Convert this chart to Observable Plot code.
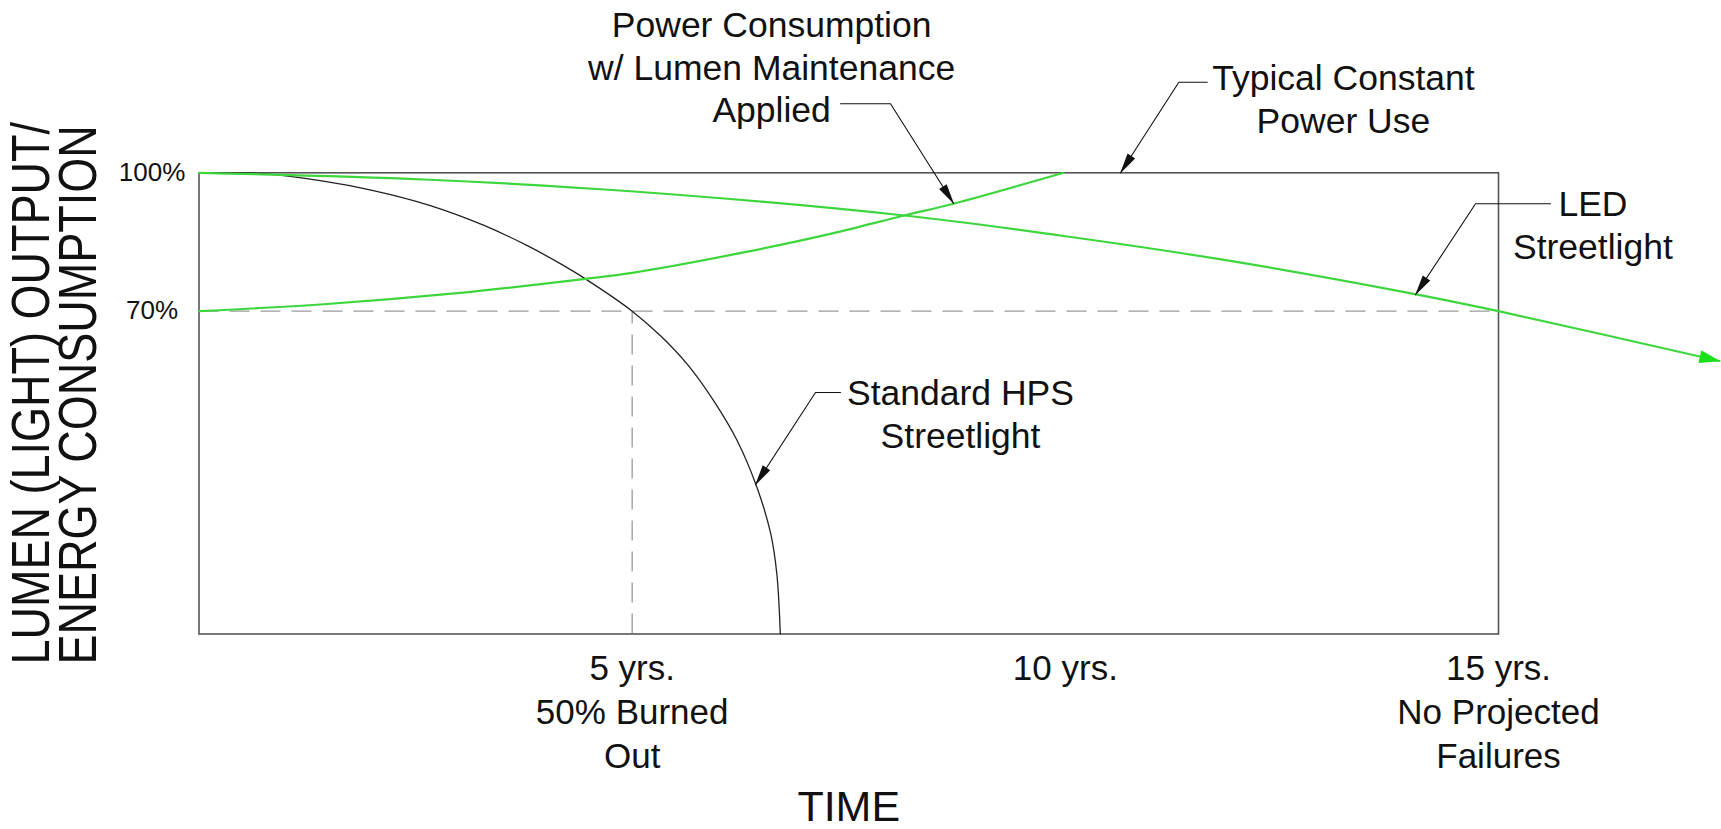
<!DOCTYPE html>
<html>
<head>
<meta charset="utf-8">
<script src="https://cdn.jsdelivr.net/npm/d3@7"></script>
<script src="https://cdn.jsdelivr.net/npm/@observablehq/plot@0.6"></script>
<style>
  html, body { margin: 0; padding: 0; background: #fff; }
  #chart svg { display: block; }
</style>
</head>
<body>
<div id="chart"></div>
<script>
// ---------------- data (years, percent) ----------------
const hpsYears = [0, 0.73, 1.40, 2.00, 2.67, 3.29, 3.79, 4.17, 4.46, 5.00, 5.33, 5.64, 5.94, 6.21, 6.44, 6.60, 6.67, 6.71];
const hpsPct   = [100, 99.8, 98.3, 96.2, 92.9, 88.6, 84.2, 80.3, 77.0, 70.0, 64.6, 58.4, 50.6, 42.0, 31.8, 21.7, 13.0, 0];

const ledYears = [0, 2.6, 4.98, 8.14, 9.94, 11.87, 14.02, 15.0, 17.55];
const ledPct   = [100, 98.55, 96.0, 90.74, 86.4, 81.0, 73.76, 70.0, 59.2];

const powerYears = [0, 1.44, 2.98, 4.46, 5.0, 6.33, 7.3, 8.14, 8.71, 9.98];
const powerPct   = [70, 71.5, 73.9, 77.0, 78.3, 82.9, 86.8, 90.74, 93.3, 100];

const refPct = 70;       // dashed horizontal reference
const refYear = 5;       // dashed vertical reference

const xTicks = [5, 10, 15];
const xTickLabels = ["5 yrs.\n50% Burned\nOut", "10 yrs.", "15 yrs.\nNo Projected\nFailures"];
const yTicks = [70, 100];
const yTickLabels = ["70%", "100%"];

const xTitle = "TIME";
const yTitle = "LUMEN (LIGHT) OUTPUT/\nENERGY CONSUMPTION";

// annotation labels (centre in data space)
const labelTexts = [
  "Power Consumption\nw/ Lumen Maintenance\nApplied",
  "Typical Constant\nPower Use",
  "LED\nStreetlight",
  "Standard HPS\nStreetlight"
];
const labelYears = [6.61, 13.21, 16.09, 8.79];
const labelPcts  = [123.2, 116.3, 88.86, 48.03];

// leader polylines (last point = arrow tip)
const leaderIds   = ["A", "A", "A", "B", "B", "B", "C", "C", "C", "D", "D", "D"];
const leaderYears = [7.405, 7.982, 8.71, 11.638, 11.31, 10.637, 15.6, 14.735, 14.042, 7.405, 7.116, 6.424];
const leaderPcts  = [114.96, 114.96, 93.34, 119.64, 119.64, 100, 93.28, 93.28, 73.55, 52.36, 52.36, 32.4];

// ---------------- layout ----------------
const W = 1721, H = 829;
const ML = 198.5, MR = 223, MT = 172.3, MB = 195.5;
const X_DOMAIN = [0, 15], Y_DOMAIN = [0, 100];
const kx = (W - ML - MR) / (X_DOMAIN[1] - X_DOMAIN[0]);
const ky = (H - MT - MB) / (Y_DOMAIN[1] - Y_DOMAIN[0]);
const screenAngle = (x0, y0, x1, y1) =>
  Math.atan2(-(y1 - y0) * ky, (x1 - x0) * kx) * 180 / Math.PI;

// ---------------- tables ----------------
const hps = hpsYears.map((x, i) => ({x, y: hpsPct[i]}));
const led = ledYears.map((x, i) => ({x, y: ledPct[i]}));
const power = powerYears.map((x, i) => ({x, y: powerPct[i]}));
const labels = labelTexts.map((t, i) => ({text: t, x: labelYears[i], y: labelPcts[i]}));
const leaders = leaderIds.map((id, i) => ({id, x: leaderYears[i], y: leaderPcts[i]}));

const heads = [];
for (const id of [...new Set(leaderIds)]) {
  const pts = leaders.filter(d => d.id === id);
  const a = pts[pts.length - 2], b = pts[pts.length - 1];
  heads.push({x: b.x, y: b.y, angle: screenAngle(a.x, a.y, b.x, b.y)});
}
const ledHead = [{
  x: led[led.length - 1].x, y: led[led.length - 1].y,
  angle: screenAngle(led[led.length - 2].x, led[led.length - 2].y, led[led.length - 1].x, led[led.length - 1].y)
}];

// filled arrowhead symbols (tip at origin, pointing +x)
const blackHeadSymbol = {draw(c) { c.moveTo(1, 0); c.lineTo(-20, -4.5); c.lineTo(-20, 4.5); c.closePath(); }};
const greenHeadSymbol = {draw(c) { c.moveTo(1, 0); c.lineTo(-20, -6.5); c.lineTo(-20, 6.5); c.closePath(); }};

const GREEN = "#3dd63d";
const TITLE_STRETCH = 1.21;   // the reference axis title uses tall, narrow capitals

const chart = Plot.plot({
  width: W, height: H,
  marginLeft: ML, marginRight: MR, marginTop: MT, marginBottom: MB,
  x: {domain: X_DOMAIN},
  y: {domain: Y_DOMAIN},
  style: {fontFamily: "'Liberation Sans', Arial, Helvetica, sans-serif", color: "#111", background: "#fff"},
  marks: [
    Plot.ruleY([refPct], {x1: X_DOMAIN[0], x2: X_DOMAIN[1], stroke: "#9a9a9a", strokeWidth: 1.3, strokeDasharray: "20,11"}),
    Plot.ruleX([refYear], {y1: Y_DOMAIN[0], y2: refPct, stroke: "#9a9a9a", strokeWidth: 1.3, strokeDasharray: "20,11"}),
    Plot.frame({stroke: "#555", strokeWidth: 1.6}),
    Plot.line(hps, {x: "x", y: "y", curve: "catmull-rom", stroke: "#222", strokeWidth: 1.3}),
    Plot.line(power, {x: "x", y: "y", curve: "catmull-rom", stroke: GREEN, strokeWidth: 2.2}),
    Plot.line(led, {x: "x", y: "y", curve: "catmull-rom", stroke: GREEN, strokeWidth: 2.2}),
    Plot.dot(ledHead, {x: "x", y: "y", rotate: "angle", symbol: greenHeadSymbol, fill: "#19e019", stroke: "none"}),
    Plot.line(leaders, {x: "x", y: "y", z: "id", stroke: "#111", strokeWidth: 1.1, curve: "linear"}),
    Plot.dot(heads, {x: "x", y: "y", rotate: "angle", symbol: blackHeadSymbol, fill: "#111", stroke: "none"}),
    Plot.text(labels, {x: "x", y: "y", text: "text", fontSize: 35.5, lineHeight: 1.21, lineAnchor: "middle", textAnchor: "middle", fill: "#111"}),
    Plot.axisX(xTicks, {tickSize: 0, tickPadding: 15, fontSize: 35, lineHeight: 1.25,
      tickFormat: d => xTickLabels[xTicks.indexOf(d)], label: null}),
    Plot.axisY(yTicks, {tickSize: 0, tickPadding: 47, fontSize: 26, textAnchor: "middle",
      tickFormat: d => yTickLabels[yTicks.indexOf(d)], label: null}),
    Plot.text([xTitle], {text: d => d, frameAnchor: "bottom", lineAnchor: "bottom", dy: 187, fontSize: 43, fill: "#111"}),
    Plot.text([yTitle], {text: d => d, frameAnchor: "left", rotate: -90, textAnchor: "start", lineAnchor: "top",
      lineHeight: 0.863, fontSize: 45, dx: -183, dy: 261, fill: "#111"})
  ]
});

// stretch the rotated axis title across its cap height
d3.select(chart).selectAll("text")
  .filter(function () { return this.textContent.includes("LUMEN"); })
  .each(function () {
    const t = this.getAttribute("transform") || "";
    this.setAttribute("transform", t + ` scale(1,${TITLE_STRETCH})`);
  });

document.getElementById("chart").appendChild(chart);
</script>
</body>
</html>
